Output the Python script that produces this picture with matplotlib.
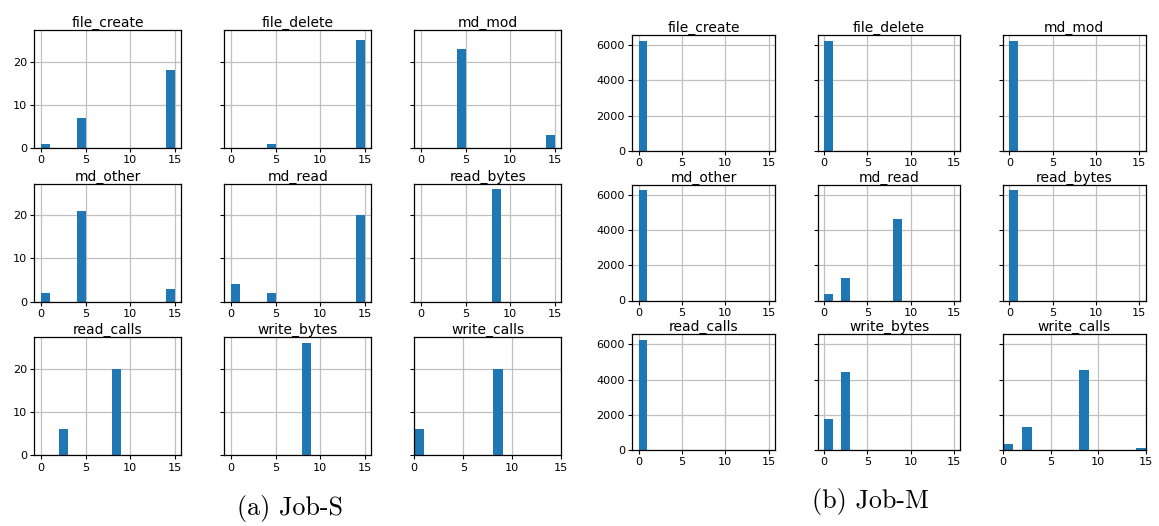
import matplotlib
matplotlib.use("Agg")
import matplotlib.pyplot as plt

# ---------------- data (counts per bin, bins 0..15 width 1) ----------------
BIN_EDGES = [0, 1, 2, 3, 4, 5, 6, 7, 8, 9, 10, 11, 12, 13, 14, 15]
FEATURES = ["file_create", "file_delete", "md_mod",
            "md_other", "md_read", "read_bytes",
            "read_calls", "write_bytes", "write_calls"]

# Job-S
S_file_create = [1, 0, 0, 0, 7, 0, 0, 0, 0, 0, 0, 0, 0, 0, 18]
S_file_delete = [0, 0, 0, 0, 1, 0, 0, 0, 0, 0, 0, 0, 0, 0, 25]
S_md_mod      = [0, 0, 0, 0, 23, 0, 0, 0, 0, 0, 0, 0, 0, 0, 3]
S_md_other    = [2, 0, 0, 0, 21, 0, 0, 0, 0, 0, 0, 0, 0, 0, 3]
S_md_read     = [4, 0, 0, 0, 2, 0, 0, 0, 0, 0, 0, 0, 0, 0, 20]
S_read_bytes  = [0, 0, 0, 0, 0, 0, 0, 0, 26, 0, 0, 0, 0, 0, 0]
S_read_calls  = [0, 0, 6, 0, 0, 0, 0, 0, 20, 0, 0, 0, 0, 0, 0]
S_write_bytes = [0, 0, 0, 0, 0, 0, 0, 0, 26, 0, 0, 0, 0, 0, 0]
S_write_calls = [6, 0, 0, 0, 0, 0, 0, 0, 20, 0, 0, 0, 0, 0, 0]

# Job-M
M_file_create = [6250, 0, 0, 0, 0, 0, 0, 0, 0, 0, 0, 0, 0, 0, 0]
M_file_delete = [6250, 0, 0, 0, 0, 0, 0, 0, 0, 0, 0, 0, 0, 0, 0]
M_md_mod      = [6250, 0, 0, 0, 0, 0, 0, 0, 0, 0, 0, 0, 0, 0, 0]
M_md_other    = [6250, 0, 0, 0, 0, 0, 0, 0, 0, 0, 0, 0, 0, 0, 0]
M_md_read     = [380, 0, 1290, 0, 0, 0, 0, 0, 4610, 0, 0, 0, 0, 0, 0]
M_read_bytes  = [6250, 0, 0, 0, 0, 0, 0, 0, 0, 0, 0, 0, 0, 0, 0]
M_read_calls  = [6250, 0, 0, 0, 0, 0, 0, 0, 0, 0, 0, 0, 0, 0, 0]
M_write_bytes = [1770, 0, 4450, 0, 30, 0, 0, 0, 0, 0, 0, 0, 0, 0, 0]
M_write_calls = [340, 0, 1300, 0, 20, 5, 5, 5, 4560, 0, 0, 0, 0, 0, 110]

S_TICKS_Y = [0, 10, 20]
M_TICKS_Y = [0, 2000, 4000, 6000]
TICKS_X = [0, 5, 10, 15]
CAPTIONS = ["(a) Job-S", "(b) Job-M"]

S_COUNTS = [S_file_create, S_file_delete, S_md_mod, S_md_other, S_md_read,
            S_read_bytes, S_read_calls, S_write_bytes, S_write_calls]
M_COUNTS = [M_file_create, M_file_delete, M_md_mod, M_md_other, M_md_read,
            M_read_bytes, M_read_calls, M_write_bytes, M_write_calls]

# ---------------- figure ----------------
W, H = 1159, 526
fig = plt.figure(figsize=(W / 100, H / 100), dpi=100)

plt.rcParams["axes.linewidth"] = 0.9


def rect(l, t, w, h):
    return [l / W, 1 - (t + h) / H, w / W, h / H]


def draw_panel(counts, lefts, tops, aw, ah, yticks):
    first = None
    centers = [(BIN_EDGES[i] + BIN_EDGES[i + 1]) / 2 for i in range(len(BIN_EDGES) - 1)]
    for k, (name, c) in enumerate(zip(FEATURES, counts)):
        r, col = divmod(k, 3)
        ax = fig.add_axes(rect(lefts[col], tops[r], aw, ah), sharey=first)
        if first is None:
            first = ax
        ax.hist(centers, bins=BIN_EDGES, weights=c, color="#1f77b4")
        ax.set_title(name, fontsize=10, pad=2.3)
        ax.grid(True, color="#c0c0c0", linewidth=0.9)
        ax.set_axisbelow(True)
        ax.set_xticks(TICKS_X)
        ax.set_yticks(yticks)
        if name == "write_calls":
            ax.set_xlim(0, 15)
        else:
            ax.set_xlim(-0.75, 15.75)
        ax.tick_params(labelsize=8.1, length=3, pad=2.2)
        if col != 0:
            ax.tick_params(labelleft=False)
    first.set_ylim(0, max(max(c) for c in counts) * 1.05)


draw_panel(S_COUNTS, [34.3, 224.3, 414.3], [30, 183.7, 337.4], 147, 118, S_TICKS_Y)
draw_panel(M_COUNTS, [632.3, 817.7, 1003], [35, 184.7, 334.3], 142.7, 115.8, M_TICKS_Y)

fig.text(290 / W, 1 - 515 / H, CAPTIONS[0], family="cmr10", fontsize=18.8,
         ha="center", va="baseline")
fig.text(871 / W, 1 - 508 / H, CAPTIONS[1], family="cmr10", fontsize=18.8,
         ha="center", va="baseline")

fig.savefig("out.png", dpi=100)
